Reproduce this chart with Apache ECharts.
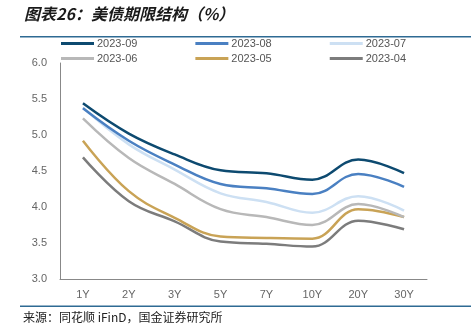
<!DOCTYPE html>
<html>
<head>
<meta charset="utf-8">
<script src="https://cdn.jsdelivr.net/npm/echarts@6/dist/echarts.min.js"></script>
<style>
html,body{margin:0;padding:0;background:#fff;}
#chart{width:471px;height:335px;}
</style>
</head>
<body>
<div id="chart"></div>
<script>
var categories = ['1Y','2Y','3Y','5Y','7Y','10Y','20Y','30Y'];
var seriesNames = ['2023-09','2023-08','2023-07','2023-06','2023-05','2023-04'];
var s202309 = [5.44, 5.02, 4.73, 4.51, 4.47, 4.38, 4.66, 4.47];
var s202308 = [5.37, 4.92, 4.59, 4.32, 4.26, 4.18, 4.46, 4.28];
var s202307 = [5.38, 4.87, 4.52, 4.19, 4.07, 3.92, 4.15, 3.95];
var s202306 = [5.23, 4.68, 4.32, 3.97, 3.86, 3.75, 4.04, 3.86];
var s202305 = [4.92, 4.22, 3.85, 3.59, 3.57, 3.56, 3.97, 3.86];
var s202304 = [4.69, 4.08, 3.80, 3.52, 3.49, 3.45, 3.81, 3.69];
var yTicks = [3.0, 3.5, 4.0, 4.5, 5.0, 5.5, 6.0];

var values = [s202309, s202308, s202307, s202306, s202305, s202304];
var colors = ['#0d4a70', '#4a80c2', '#cde0f3', '#b8b8b8', '#c9a356', '#7c7c7c'];

var chart = echarts.init(document.getElementById('chart'), null, {renderer:'canvas'});
var legendCommon = {
  icon: 'rect', itemWidth: 33, itemHeight: 3, itemGap: 58,
  textStyle: {fontSize: 11, color: '#555', fontFamily: 'Liberation Sans, Arial', padding:[0,0,0,-2]},
};
var option = {
  animation: false,
  color: colors,
  legend: [
    Object.assign({}, legendCommon, {left: 56, top: 33, data: seriesNames.slice(0,3)}),
    Object.assign({}, legendCommon, {left: 56, top: 48, data: seriesNames.slice(3,6)})
  ],
  grid: {left: 60, right: 44, top: 63, bottom: 56, containLabel: false},
  xAxis: {
    type: 'category', data: categories, boundaryGap: true,
    axisLine: {lineStyle: {color: '#888', width: 1}},
    axisTick: {inside: true, length: 4, lineStyle: {color: '#888'}},
    axisLabel: {color: '#666', fontSize: 11, fontFamily: 'Liberation Sans, Arial', margin: 10}
  },
  yAxis: {
    type: 'value', min: yTicks[0], max: yTicks[yTicks.length-1], interval: 0.5,
    axisLine: {show: true, lineStyle: {color: '#888', width: 1}},
    axisTick: {show: false},
    splitLine: {show: false},
    axisLabel: {color: '#666', fontSize: 11, fontFamily: 'Liberation Sans, Arial', margin: 13,
      formatter: function(v){ return v.toFixed(1); }}
  },
  series: seriesNames.map(function(n, i){
    return {name: n, type: 'line', data: values[i], smooth: 0.4, showSymbol: false,
      lineStyle: {width: 2.5, color: colors[i]}, itemStyle: {color: colors[i]}, z: 10 - i};
  }),
  graphic: [
    {type: 'text', left: 24, top: 6, style: {text: '图表26：美债期限结构（%）', fill: '#1a1a1a',
      font: 'italic bold 16px "Noto Sans CJK SC"'}},
    {type: 'rect', shape: {x: 20, y: 36, width: 451, height: 1.5}, style: {fill: '#2e6a93'}},
    {type: 'rect', shape: {x: 20, y: 305.5, width: 451, height: 1.5}, style: {fill: '#2e6a93'}},
    {type: 'text', left: 23, top: 311, style: {text: '来源：同花顺 iFinD，国金证券研究所', fill: '#222',
      font: '12px "Noto Sans CJK SC"'}}
  ]
};
chart.setOption(option);
</script>
</body>
</html>
